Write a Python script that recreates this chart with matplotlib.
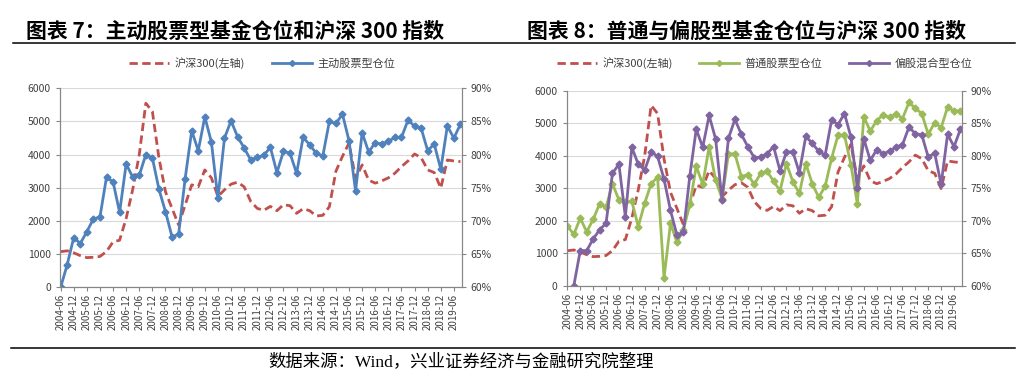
import numpy as np
import matplotlib
matplotlib.use('Agg')
from matplotlib import pyplot as plt
from matplotlib.lines import Line2D

plt.rcParams['font.family'] = ['Noto Sans CJK SC', 'DejaVu Sans']

# 季度数据 2004-06 ~ 2019-09
labels = [f"{y}-{m}" for y in range(2004, 2020) for m in ("06", "12")][:31]

# 沪深300 (左轴)
hs300 = [1075, 1100, 1040, 955, 895, 905, 930, 1080, 1370, 1420,
         2080, 2950, 4000, 5550, 5300, 3900, 2880, 2380, 1880, 2480,
         3090, 3030, 3540, 3300, 2740, 2940, 3110, 3170, 3030, 2590,
         2380, 2320, 2440, 2310, 2490, 2460, 2230, 2370, 2310, 2150,
         2170, 2430, 3500, 3950, 4350, 3280, 3690, 3230, 3140, 3210,
         3300, 3440, 3640, 3810, 4020, 3910, 3540, 3460, 2990, 3840,
         3810, 3790]

# 主动股票型仓位 (%)
active = [60.0, 63.4, 67.5, 66.6, 68.4, 70.3, 70.6, 76.6, 75.9, 71.3,
          78.6, 76.6, 76.9, 80.0, 79.5, 74.8, 71.4, 67.6, 68.0, 76.4,
          83.6, 80.6, 85.7, 81.9, 73.4, 82.5, 85.1, 82.7, 81.0, 79.2,
          79.6, 79.9, 81.1, 77.3, 80.5, 80.2, 77.2, 82.6, 81.5, 80.2,
          79.8, 85.0, 84.7, 86.1, 82.1, 74.5, 83.3, 80.4, 81.8, 81.6,
          82.0, 82.6, 82.6, 85.2, 84.3, 84.0, 80.6, 81.6, 77.8, 84.3,
          82.5, 84.6]

# 普通股票型仓位 (%)
common = [69.2, 67.9, 70.4, 68.3, 70.2, 72.6, 72.1, 75.7, 73.2, 72.9,
          73.0, 69.1, 72.7, 75.7, 76.7, 61.2, 69.6, 66.7, 68.6, 72.5,
          78.4, 75.6, 81.4, 76.3, 73.4, 80.3, 80.3, 76.8, 77.1, 75.6,
          77.3, 77.6, 76.1, 74.6, 78.8, 76.0, 74.2, 78.8, 75.7, 73.6,
          75.3, 79.6, 83.2, 83.2, 78.6, 72.6, 86.0, 83.8, 85.4, 86.3,
          85.9, 86.5, 85.7, 88.2, 87.3, 86.5, 83.3, 85.1, 84.3, 87.5,
          86.9, 86.9]

# 偏股混合型仓位 (%)
hybrid = [np.nan, 60.0, 65.4, 65.4, 67.2, 68.6, 69.6, 77.3, 78.7, 70.6,
          81.3, 78.7, 77.8, 80.6, 79.9, 76.4, 71.6, 67.8, 68.2, 76.9,
          84.1, 81.3, 86.2, 82.6, 73.2, 82.7, 85.6, 83.3, 81.4, 79.7,
          79.8, 80.3, 81.4, 77.7, 80.6, 80.6, 77.4, 83.0, 81.9, 80.7,
          80.1, 85.5, 84.8, 86.5, 82.9, 75.1, 82.6, 79.3, 80.9, 80.3,
          80.7, 81.3, 81.7, 84.4, 83.4, 83.2, 79.8, 80.4, 75.6, 83.3,
          81.4, 84.1]

x = np.arange(len(hs300))
RED = '#C0504D'
TXT = '#404040'
SPINE = '#868686'

fig = plt.figure(figsize=(10.25, 3.86), dpi=100)


def panel(rect, series, legend_x):
    ax = fig.add_axes(rect)
    ax2 = ax.twinx()
    ax.plot(x, hs300, color=RED, lw=2, dashes=(3, 1.6), label='沪深300(左轴)')
    for vals, color, name in series:
        ax2.plot(x, vals, color=color, lw=2, marker='D', ms=3.5, label=name)

    ax.set_xlim(-0.1, 61.2)
    ax.set_ylim(0, 6000)
    ax.set_yticks(range(0, 6001, 1000))
    ax2.set_ylim(60, 90)
    ax2.set_yticks(range(60, 91, 5))
    ax2.set_yticklabels([f"{v}%" for v in range(60, 91, 5)])
    ax.set_xticks(x[::2])
    ax.set_xticklabels(labels, rotation=90)

    ax.grid(axis='y', color='#D9D9D9', lw=0.8)
    ax.set_axisbelow(True)
    for a in (ax, ax2):
        a.spines['top'].set_visible(False)
        for s in ('left', 'right', 'bottom'):
            a.spines[s].set_color(SPINE)
        a.tick_params(colors=SPINE, labelcolor=TXT, labelsize=7.5, length=3, width=0.8)
    ax.tick_params(axis='x', labelsize=7, pad=2)

    handles = [Line2D([], [], color=RED, lw=2, dashes=(3, 1.6))]
    names = ['沪深300(左轴)']
    for vals, color, name in series:
        handles.append(Line2D([], [], color=color, lw=2, marker='D', ms=3))
        names.append(name)
    fig.legend(handles, names, loc='center', bbox_to_anchor=(legend_x, 0.837),
               ncol=len(names), frameon=False, fontsize=8, handlelength=3.6,
               columnspacing=2.4, handletextpad=0.5, labelcolor=TXT)
    return ax


panel([0.0585, 0.2557, 0.392, 0.5155], [(active, '#4F81BD', '主动股票型仓位')], 0.256)
panel([0.5529, 0.2598, 0.3854, 0.505],
      [(common, '#9BBB59', '普通股票型仓位'), (hybrid, '#8064A2', '偏股混合型仓位')], 0.746)

# 标题与分隔线
fig.text(0.025, 0.918, '图表 7：主动股票型基金仓位和沪深 300 指数', fontsize=15,
         fontweight='bold', va='center', ha='left')
fig.text(0.514, 0.918, '图表 8：普通与偏股型基金仓位与沪深 300 指数', fontsize=15,
         fontweight='bold', va='center', ha='left')
fig.add_artist(Line2D([0.013, 0.99], [0.888, 0.888], color='black', lw=1.1))
fig.add_artist(Line2D([0.011, 0.99], [0.098, 0.098], color='black', lw=1.1))
fig.text(0.262, 0.063, '数据来源：Wind，兴业证券经济与金融研究院整理', fontsize=12.5,
         family=['Liberation Serif', 'Noto Sans CJK SC'], va='center', ha='left')

fig.savefig('out.png', dpi=100)
